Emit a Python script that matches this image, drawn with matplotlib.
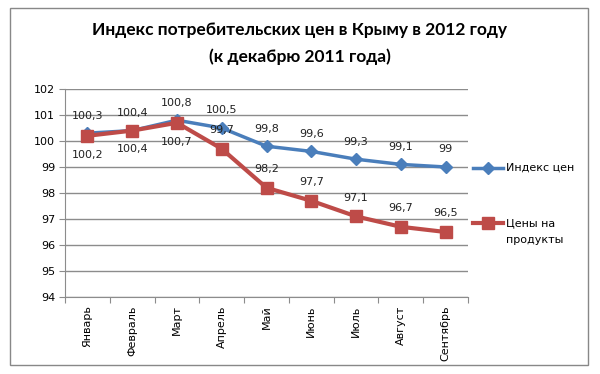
import matplotlib
matplotlib.use("Agg")
import matplotlib.pyplot as plt
from matplotlib.patches import Rectangle
from matplotlib.lines import Line2D

months = ["Январь", "Февраль", "Март", "Апрель", "Май", "Июнь", "Июль", "Август", "Сентябрь"]
cpi = [100.3, 100.4, 100.8, 100.5, 99.8, 99.6, 99.3, 99.1, 99.0]
food = [100.2, 100.4, 100.7, 99.7, 98.2, 97.7, 97.1, 96.7, 96.5]
cpi_labels = ["100,3", "100,4", "100,8", "100,5", "99,8", "99,6", "99,3", "99,1", "99"]
food_labels = ["100,2", "100,4", "100,7", "99,7", "98,2", "97,7", "97,1", "96,7", "96,5"]
food_below = [True, True, True, False, False, False, False, False, False]
yticks = [94, 95, 96, 97, 98, 99, 100, 101, 102]

plt.rcParams['font.family'] = ['DejaVu Sans']
W, H = 600, 374
fig = plt.figure(figsize=(W/100, H/100), dpi=100)
fig.patches.append(Rectangle((10/W, 1 - 365/H), 578/W, 357/H, transform=fig.transFigure,
                             fill=False, edgecolor="#888888", linewidth=1))

ax = fig.add_axes([65/W, 1 - 297/H, (468-65)/W, (297-89)/H])
x = list(range(len(months)))
blue = "#4A7EBB"
red = "#BE4B48"
ax.plot(x, cpi, color=blue, linewidth=2.5, marker="D", markersize=6, zorder=3)
ax.plot(x, food, color=red, linewidth=3, marker="s", markersize=8, zorder=4)

for i in x:
    ax.annotate(cpi_labels[i], (i, cpi[i]), xytext=(0, 9), textcoords="offset points",
                ha="center", va="bottom", fontsize=8, color="#222222", zorder=5)
    off = -10 if food_below[i] else 10
    ax.annotate(food_labels[i], (i, food[i]), xytext=(0, off), textcoords="offset points",
                ha="center", va="top" if food_below[i] else "bottom", fontsize=8, color="#222222", zorder=5)

ax.set_xlim(-0.5, len(months) - 0.5)
ax.set_ylim(94, 102)
ax.set_yticks(yticks)
ax.set_yticklabels([str(v) for v in yticks], fontsize=8)
ax.yaxis.grid(True, color="#8c8c8c", linewidth=1)
ax.set_axisbelow(True)
ax.set_xticks([i + 0.5 for i in range(-1, len(months))])
ax.set_xticklabels([])
ax.set_xticks(x, minor=True)
ax.set_xticklabels(months, minor=True, rotation=90, fontsize=8, va="top")
ax.tick_params(axis="x", which="minor", length=0, pad=6)
ax.tick_params(axis="x", which="major", length=4, color="#8c8c8c")
ax.tick_params(axis="y", length=4, color="#8c8c8c", pad=3)
for s in ["top", "right"]:
    ax.spines[s].set_visible(False)
for s in ["left", "bottom"]:
    ax.spines[s].set_color("#8c8c8c")

fig.text(0.5, 1 - 30/H, "Индекс потребительских цен в Крыму в 2012 году", ha="center", va="center",
         fontsize=12.5, fontweight="bold", family="Lato")
fig.text(0.5, 1 - 57/H, "(к декабрю 2011 года)", ha="center", va="center",
         fontsize=12.5, fontweight="bold", family="Lato")

fig.lines.append(Line2D([473/W, 503/W], [1 - 168/H]*2, transform=fig.transFigure, color=blue, linewidth=2.5))
fig.lines.append(Line2D([488/W], [1 - 168/H], transform=fig.transFigure, color=blue, marker="D", markersize=6))
fig.text(506/W, 1 - 168/H, "Индекс цен", fontsize=8, va="center")
fig.lines.append(Line2D([473/W, 503/W], [1 - 223/H]*2, transform=fig.transFigure, color=red, linewidth=3))
fig.lines.append(Line2D([488/W], [1 - 223/H], transform=fig.transFigure, color=red, marker="s", markersize=8))
fig.text(506/W, 1 - 223/H, "Цены на", fontsize=8, va="center")
fig.text(506/W, 1 - 240/H, "продукты", fontsize=8, va="center")

fig.savefig("out.png", dpi=100)
